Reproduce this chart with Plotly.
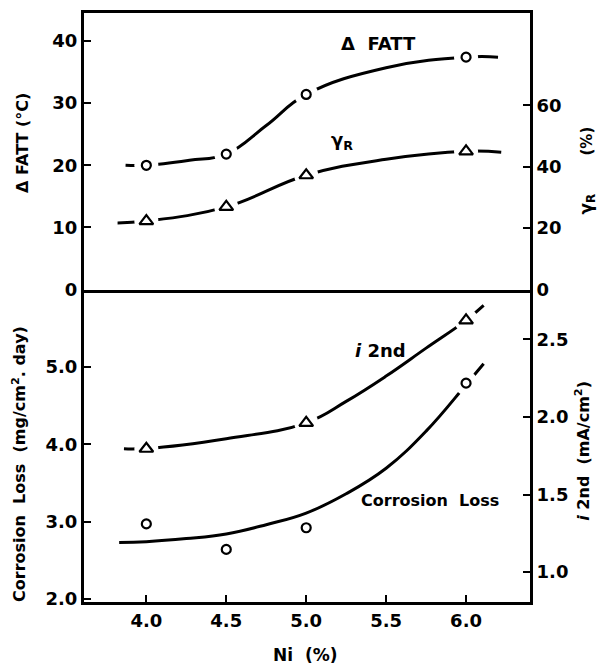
import plotly.graph_objects as go

# ---- data ----
ni = [4.0, 4.5, 5.0, 6.0]
fatt = [20.0, 21.8, 31.4, 37.4]          # Δ FATT (°C), circles, left top axis
gamma_r = [22.3, 26.9, 37.2, 45.0]       # γR (%), triangles, right top axis
ni_i2nd = [4.0, 5.0, 6.0]
i2nd = [1.795, 1.962, 2.622]             # i 2nd (mA/cm2), triangles, right bottom axis
corrosion = [2.97, 2.64, 2.92, 4.79]     # corrosion loss, circles, left bottom axis

# hand-drawn fitted curves
fatt_cx = [3.87, 4.0, 4.27, 4.5, 4.75, 5.0, 5.5, 6.0, 6.2]
fatt_cy = [20.0, 20.0, 20.8, 21.8, 26.4, 31.4, 35.7, 37.4, 37.4]
gam_cx = [3.82, 4.0, 4.5, 5.0, 5.5, 6.0, 6.22]
gam_cy = [21.7, 22.3, 26.9, 37.2, 42.4, 45.0, 44.7]
i2_cx = [3.86, 4.0, 4.5, 5.0, 5.25, 5.5, 5.75, 6.0, 6.11]
i2_cy = [1.795, 1.797, 1.86, 1.962, 2.10, 2.263, 2.443, 2.622, 2.718]
cor_cx = [3.83, 4.0, 4.25, 4.5, 4.75, 5.0, 5.25, 5.5, 5.75, 6.0, 6.11]
cor_cy = [2.73, 2.74, 2.78, 2.84, 2.96, 3.11, 3.36, 3.69, 4.17, 4.77, 5.04]

top_left_ticks = [0, 10, 20, 30, 40]
top_right_ticks = [0, 20, 40, 60]
bot_left_ticks = [2.0, 3.0, 4.0, 5.0]
bot_right_ticks = [1.0, 1.5, 2.0, 2.5]
x_ticks = [4.0, 4.5, 5.0, 5.5, 6.0]

FONT = "DejaVu Sans"
LW = 3
HALO = 24

fig = go.Figure()

def add_series(cx, cy, px, py, xa, ya, sym, size, halo_idx):
    fig.add_trace(go.Scatter(x=cx, y=cy, mode="lines", xaxis=xa, yaxis=ya,
                             line=dict(color="black", width=LW, shape="spline", smoothing=1.2),
                             hoverinfo="skip", showlegend=False))
    hx = [px[i] for i in halo_idx]
    hy = [py[i] for i in halo_idx]
    fig.add_trace(go.Scatter(x=hx, y=hy, mode="markers", xaxis=xa, yaxis=ya,
                             marker=dict(symbol="circle", size=HALO, color="white", line=dict(width=0)),
                             hoverinfo="skip", showlegend=False))
    fig.add_trace(go.Scatter(x=px, y=py, mode="markers", xaxis=xa, yaxis=ya,
                             marker=dict(symbol=sym, size=size, color="white",
                                         line=dict(color="black", width=2.2)),
                             showlegend=False))

add_series(fatt_cx, fatt_cy, ni, fatt, "x2", "y3", "circle", 9, [0, 1, 2, 3])
add_series(gam_cx, gam_cy, ni, gamma_r, "x2", "y4", "triangle-up", 12, [0, 1, 2, 3])
add_series(i2_cx, i2_cy, ni_i2nd, i2nd, "x", "y2", "triangle-up", 12, [0, 1, 2])
add_series(cor_cx, cor_cy, ni, corrosion, "x", "y", "circle", 9, [3])

split = 0.5304
tickfont = dict(family=FONT, size=18, color="black", weight="bold")
axis_common = dict(showgrid=False, zeroline=False, showline=True, linecolor="black",
                   linewidth=LW, ticks="inside", tickcolor="black", tickwidth=2,
                   ticklen=7, tickfont=tickfont)

xr = [3.61, 6.4]
fig.update_layout(
    width=612, height=672,
    margin=dict(l=84, r=82, t=10, b=70),
    paper_bgcolor="white", plot_bgcolor="white",
    showlegend=False,
    xaxis=dict(axis_common, domain=[0, 1], range=xr, anchor="y", mirror=False,
               tickvals=x_ticks, ticktext=[f"{v:.1f}" for v in x_ticks], ticklabelstandoff=0),
    xaxis2=dict(axis_common, domain=[0, 1], range=xr, anchor="y3", mirror=True,
                ticks="", showticklabels=False),
    yaxis=dict(axis_common, domain=[0, split], range=[1.96, 6.0], anchor="x", side="left",
               tickvals=bot_left_ticks, ticktext=[f"{v:.1f}" for v in bot_left_ticks]),
    yaxis2=dict(axis_common, domain=[0, split], range=[0.808, 2.82], anchor="x",
                overlaying="y", side="right",
                tickvals=bot_right_ticks, ticktext=[f"{v:.1f}" for v in bot_right_ticks]),
    yaxis3=dict(axis_common, domain=[split, 1], range=[0, 44.5], anchor="x2", side="left",
                tickvals=top_left_ticks),
    yaxis4=dict(axis_common, domain=[split, 1], range=[0, 90], anchor="x2",
                overlaying="y3", side="right", tickvals=top_right_ticks),
)

def ann(text, x, y, size=15, angle=0):
    fig.add_annotation(text=text, x=x, y=y, xref="paper", yref="paper", showarrow=False,
                       textangle=angle, xanchor="center", yanchor="middle",
                       font=dict(family=FONT, size=size, color="black", weight="bold"))

ann("Δ FATT (°C)", -0.138, 0.780, 16, -90)
ann("(%)", 1.128, 0.782, 15, -90)
ann("γ<sub>R</sub>", 1.128, 0.675, 17, -90)
ann("Corrosion  Loss  (mg/cm<sup>2</sup>. day)", -0.145, 0.235, 16, -90)
ann("<i>i</i> 2nd  (mA/cm<sup>2</sup>)", 1.119, 0.257, 16, -90)
ann("Ni  (%)", 0.4955, -0.0895, 17)
ann("Δ  FATT", 0.661, 0.948, 18)
ann("γ<sub>R</sub>", 0.578, 0.782, 18)
ann("<i>i</i> 2nd", 0.664, 0.427, 18)
ann("Corrosion  Loss", 0.776, 0.172, 16)

fig.write_html("out.html")
